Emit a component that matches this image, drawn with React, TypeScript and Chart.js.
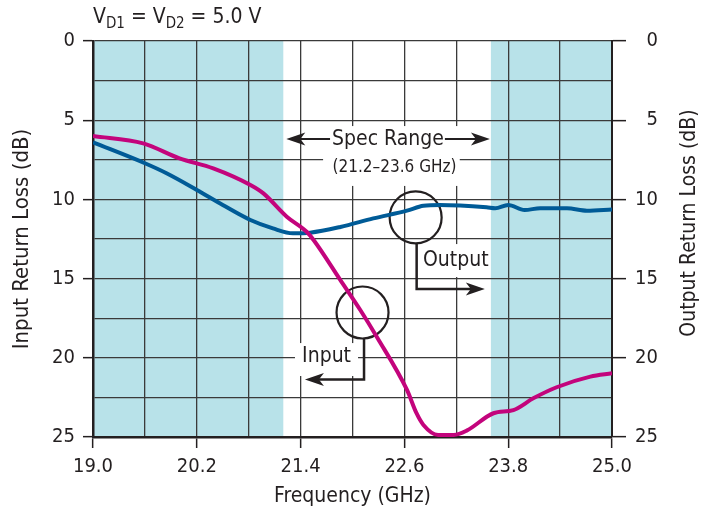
import React, { useEffect, useRef } from 'react';
import { Chart, registerables } from 'chart.js';

Chart.register(...registerables);

const FONT = "'Liberation Sans Narrow', 'Arial Narrow', 'DejaVu Sans Condensed', sans-serif";
const INK = '#231f20';
const GRID = '#3a3a3a';
const SHADE = '#b8e2e9';
const OUTPUT_COLOR = '#005b97';
const INPUT_COLOR = '#c3047c';

// ---- data ----
const outputFreq = [19.0, 19.6, 19.85, 20.2, 20.5, 20.82, 21.08, 21.31, 21.51, 21.86, 22.24, 22.63, 22.82, 23.01, 23.55, 23.65, 23.8, 23.99, 24.17, 24.48, 24.71, 25.0];
const outputLoss = [6.4, 7.72, 8.35, 9.4, 10.35, 11.3, 11.83, 12.14, 12.1, 11.74, 11.2, 10.71, 10.4, 10.35, 10.5, 10.56, 10.35, 10.67, 10.56, 10.56, 10.71, 10.63];

const inputFreq = [19.0, 19.58, 20.0, 20.39, 20.82, 20.97, 21.24, 21.47, 21.55, 21.86, 22.09, 22.28, 22.63, 22.74, 22.82, 22.99, 23.17, 23.32, 23.63, 23.86, 24.09, 24.36, 24.75, 25.0];
const inputLoss = [6.0, 6.46, 7.41, 8.04, 9.09, 9.62, 11.09, 12.04, 12.56, 15.09, 16.98, 18.67, 22.03, 23.5, 24.24, 24.87, 24.87, 24.6, 23.5, 23.3, 22.56, 21.86, 21.19, 20.98];

const xTickValues = [19.0, 19.6, 20.2, 20.8, 21.4, 22.0, 22.6, 23.2, 23.8, 24.4, 25.0];
const xTickLabels = ['19.0', '', '20.2', '', '21.4', '', '22.6', '', '23.8', '', '25.0'];
const yTickValues = [0, 2.5, 5, 7.5, 10, 12.5, 15, 17.5, 20, 22.5, 25];
const yTickLabels = ['0', '', '5', '', '10', '', '15', '', '20', '', '25'];

const specRange = [21.2, 23.6];
const outsideBands = [[19.0, specRange[0]], [specRange[1], 25.0]];

const titleParts: [string, number, number][] = [['V', 21, 0], ['D1', 15, 5], [' = V', 21, 0], ['D2', 15, 5], [' = 5.0 V', 21, 0]];

function arrowHead(ctx: CanvasRenderingContext2D, tipX: number, tipY: number, dx: number, dy: number) {
  const L = 19, W = 6.5, N = 5;
  const px = -dy, py = dx;
  ctx.beginPath();
  ctx.moveTo(tipX, tipY);
  ctx.lineTo(tipX - dx * L + px * W, tipY - dy * L + py * W);
  ctx.lineTo(tipX - dx * (L - N), tipY - dy * (L - N));
  ctx.lineTo(tipX - dx * L - px * W, tipY - dy * L - py * W);
  ctx.closePath();
  ctx.fill();
}

const bandsPlugin = {
  id: 'bands',
  beforeDraw(chart: any) {
    const { ctx, chartArea: a, scales } = chart;
    const x = scales.x;
    ctx.save();
    ctx.fillStyle = SHADE;
    for (const [lo, hi] of outsideBands) {
      const x0 = x.getPixelForValue(lo);
      const x1 = x.getPixelForValue(hi);
      ctx.fillRect(x0, a.top, x1 - x0, a.bottom - a.top);
    }
    ctx.restore();
  },
};

const annotationPlugin = {
  id: 'annotations',
  beforeDatasetsDraw(chart: any) {
    const { ctx, scales } = chart;
    const X = (v: number) => scales.x.getPixelForValue(v);
    const Y = (v: number) => scales.y.getPixelForValue(v);
    ctx.save();

    // white boxes behind labels
    ctx.fillStyle = '#ffffff';
    const box = (x0: number, x1: number, y0: number, y1: number) =>
      ctx.fillRect(X(x0), Y(y0), X(x1) - X(x0), Y(y1) - Y(y0));
    box(21.66, 23.24, 5.37, 9.15);
    box(22.78, 23.59, 12.82, 14.9);
    box(21.335, 22.064, 19.07, 21.15);

    ctx.strokeStyle = INK;
    ctx.fillStyle = INK;
    ctx.textBaseline = 'middle';

    // Spec range label
    ctx.font = `21px ${FONT}`;
    ctx.textAlign = 'center';
    const sx = X(22.41);
    const sy = Y(6.19);
    ctx.fillText('Spec Range', sx, sy);
    const sw = ctx.measureText('Spec Range').width;
    ctx.lineWidth = 2;
    const lTip = X(specRange[0]) + 3;
    const rTip = X(specRange[1]) - 1;
    ctx.beginPath();
    ctx.moveTo(sx - sw / 2 - 2, sy);
    ctx.lineTo(lTip + 13, sy);
    ctx.moveTo(sx + sw / 2 + 1, sy);
    ctx.lineTo(rTip - 13, sy);
    ctx.stroke();
    arrowHead(ctx, lTip, sy, -1, 0);
    arrowHead(ctx, rTip, sy, 1, 0);
    ctx.font = `17px ${FONT}`;
    ctx.fillText('(21.2\u201323.6 GHz)', X(22.486), Y(8.02));

    // Output callout
    ctx.lineWidth = 2.2;
    const r = 26;
    const ocx = X(22.73), ocy = Y(11.14);
    ctx.beginPath();
    ctx.arc(ocx, ocy, r, 0, Math.PI * 2);
    ctx.stroke();
    ctx.lineWidth = 2.5;
    const oLeadX = ocx + 1;
    const oCornerY = Y(15.66);
    const oTip = X(23.53);
    ctx.beginPath();
    ctx.moveTo(oLeadX, ocy + r);
    ctx.lineTo(oLeadX, oCornerY);
    ctx.lineTo(oTip - 13, oCornerY);
    ctx.stroke();
    arrowHead(ctx, oTip, oCornerY, 1, 0);
    ctx.font = `21px ${FONT}`;
    ctx.textAlign = 'left';
    ctx.fillText('Output', X(22.815), Y(13.83));

    // Input callout
    ctx.lineWidth = 2.2;
    const icx = X(22.116), icy = Y(17.14);
    ctx.beginPath();
    ctx.arc(icx, icy, r, 0, Math.PI * 2);
    ctx.stroke();
    ctx.lineWidth = 2.5;
    const iLeadX = icx + 1.5;
    const iCornerY = Y(21.37);
    const iTip = X(21.45);
    ctx.beginPath();
    ctx.moveTo(iLeadX, icy + r);
    ctx.lineTo(iLeadX, iCornerY);
    ctx.lineTo(iTip + 13, iCornerY);
    ctx.stroke();
    arrowHead(ctx, iTip, iCornerY, -1, 0);
    ctx.textAlign = 'center';
    ctx.fillText('Input', X(21.7), Y(19.95));

    ctx.restore();
  },
};

const titlePlugin = {
  id: 'titles',
  afterDraw(chart: any) {
    const { ctx, chartArea: a } = chart;
    ctx.save();
    ctx.fillStyle = INK;
    ctx.textBaseline = 'alphabetic';
    ctx.textAlign = 'left';
    let xPos = a.left;
    for (const [t, s, dy] of titleParts) {
      ctx.font = `${s}px ${FONT}`;
      ctx.fillText(t, xPos, 23 + dy);
      xPos += ctx.measureText(t).width;
    }
    ctx.translate(690, (a.top + a.bottom) / 2 - 16);
    ctx.rotate(-Math.PI / 2);
    ctx.font = `21px ${FONT}`;
    ctx.textAlign = 'center';
    ctx.textBaseline = 'middle';
    ctx.fillText('Output Return Loss (dB)', 0, 0);
    ctx.restore();
  },
};

const tickMarkColor = (ctx: any) => (ctx.index % 2 === 0 ? INK : 'rgba(0,0,0,0)');

export default function App() {
  const ref = useRef<HTMLCanvasElement>(null);

  useEffect(() => {
    document.body.style.margin = '0';
    const canvas = ref.current;
    if (!canvas) return;
    const chart = new Chart(canvas, {
      type: 'line',
      data: {
        datasets: [
          {
            label: 'Input',
            data: inputFreq.map((f, i) => ({ x: f, y: inputLoss[i] })),
            borderColor: INPUT_COLOR,
            borderWidth: 4,
            pointRadius: 0,
            cubicInterpolationMode: 'monotone',
            xAxisID: 'x',
            yAxisID: 'y',
          },
          {
            label: 'Output',
            data: outputFreq.map((f, i) => ({ x: f, y: outputLoss[i] })),
            borderColor: OUTPUT_COLOR,
            borderWidth: 4,
            pointRadius: 0,
            cubicInterpolationMode: 'monotone',
            xAxisID: 'x',
            yAxisID: 'y',
          },
        ],
      },
      options: {
        animation: false,
        responsive: false,
        devicePixelRatio: 1,
        layout: { padding: { top: 41, right: 58, left: 0, bottom: 0 } },
        plugins: { legend: { display: false }, tooltip: { enabled: false }, title: { display: false } },
        scales: {
          x: {
            type: 'linear',
            position: 'bottom',
            min: 19,
            max: 25,
            afterBuildTicks: (s: any) => { s.ticks = xTickValues.map((v) => ({ value: v })); },
            afterFit: (s: any) => { s.height = 82; },
            grid: { color: GRID, lineWidth: 1.3, tickLength: 11, tickColor: tickMarkColor, tickWidth: 1.5 },
            border: { display: true, color: INK, width: 2.5 },
            ticks: {
              autoSkip: false,
              maxRotation: 0,
              padding: 7,
              color: INK,
              font: { family: FONT, size: 20 },
              callback: (_v: any, i: number) => xTickLabels[i],
            },
            title: {
              display: true,
              text: 'Frequency (GHz)',
              color: INK,
              font: { family: FONT, size: 21 },
              padding: { top: 0, bottom: 10 },
            },
          },
          y: {
            type: 'linear',
            position: 'left',
            min: 0,
            max: 25,
            reverse: true,
            afterBuildTicks: (s: any) => { s.ticks = yTickValues.map((v) => ({ value: v })); },
            afterFit: (s: any) => { s.width = 93; },
            grid: { color: GRID, lineWidth: 1.3, tickLength: 10, tickColor: tickMarkColor, tickWidth: 1.5 },
            border: { display: true, color: INK, width: 2.5 },
            ticks: {
              autoSkip: false,
              padding: 8,
              color: INK,
              font: { family: FONT, size: 20 },
              callback: (_v: any, i: number) => yTickLabels[i],
            },
            title: {
              display: true,
              text: 'Input Return Loss (dB)',
              color: INK,
              font: { family: FONT, size: 22 },
              padding: { top: 9, bottom: 0 },
            },
          },
          y2: {
            type: 'linear',
            position: 'right',
            min: 0,
            max: 25,
            reverse: true,
            afterBuildTicks: (s: any) => { s.ticks = yTickValues.map((v) => ({ value: v })); },
            afterFit: (s: any) => { s.width = 46; },
            grid: { drawOnChartArea: false, color: GRID, lineWidth: 1.3, tickLength: 14, tickColor: tickMarkColor, tickWidth: 1.5 },
            border: { display: true, color: INK, width: 2 },
            ticks: {
              autoSkip: false,
              crossAlign: 'far',
              color: INK,
              font: { family: FONT, size: 20 },
              callback: (_v: any, i: number) => yTickLabels[i],
            },
          },
        },
      },
      plugins: [bandsPlugin, annotationPlugin, titlePlugin],
    } as any);
    return () => chart.destroy();
  }, []);

  return (
    <div style={{ width: 716, height: 519 }}>
      <canvas ref={ref} width={716} height={519} style={{ display: 'block', width: 716, height: 519 }} />
    </div>
  );
}
